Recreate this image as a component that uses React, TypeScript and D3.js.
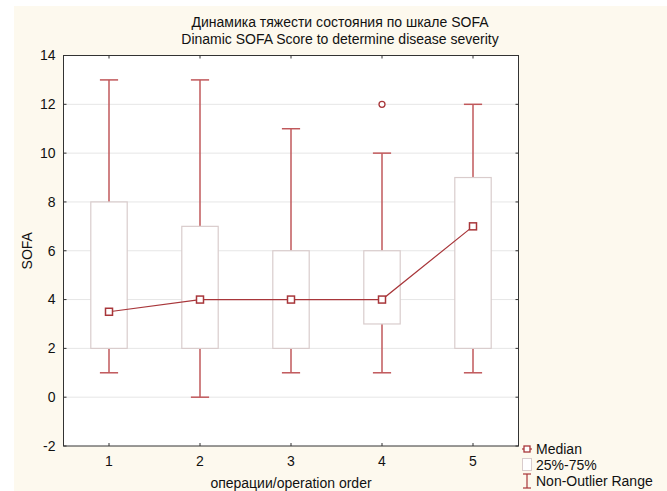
import React from "react";
import * as d3 from "d3";

const categories = ["1", "2", "3", "4", "5"];
const whiskerLow = [1, 0, 1, 1, 1];
const whiskerHigh = [13, 13, 11, 10, 12];
const q1 = [2, 2, 2, 3, 2];
const q3 = [8, 7, 6, 6, 9];
const medians = [3.5, 4, 4, 4, 7];
const outliers: { cat: string; value: number }[] = [{ cat: "4", value: 12 }];
const yTicks = [-2, 0, 2, 4, 6, 8, 10, 12, 14];

const W = 667;
const H = 491;
const left = 63.5;
const right = 518.5;
const top = 55.5;
const bottom = 446;

const RED = "#a8363a";
const WHISK = "#c0585b";
const BOXC = "#d9cccc";
const FONT = "'Liberation Sans', Arial, sans-serif";
const FS = 14;

export default function App() {
  const x = d3.scaleLinear().domain([0.5, 5.5]).range([left, right]);
  const y = d3.scaleLinear().domain([-2, 14]).range([bottom, top]);
  const xc = (c: string) => x(+c);
  const band = x(2) - x(1);
  const boxW = band * 0.4;
  const capW = band * 0.2;
  const line = d3
    .line<number>()
    .x((_, i) => xc(categories[i]))
    .y((d) => y(d));

  return (
    <div style={{ position: "absolute", left: 0, top: 0 }}>
      <svg width={W} height={H} style={{ display: "block" }} fontFamily={FONT}>
        <rect x={0} y={0} width={W} height={H} fill="#ffffff" />
        <rect x={14} y={6} width={W - 14} height={H - 6} fill="#fdf9ee" />
        <rect x={left} y={top} width={right - left} height={bottom - top} fill="#ffffff" />
        {yTicks.map((t) => (
          <g key={t}>
            {t > -2 && t < 14 && (
              <line x1={left} x2={right} y1={y(t)} y2={y(t)} stroke="#e6e6e6" strokeWidth={1} />
            )}
            <line x1={left} x2={left + 3} y1={y(t)} y2={y(t)} stroke="#333" />
            <line x1={right} x2={right - 3} y1={y(t)} y2={y(t)} stroke="#333" />
            <text x={left - 8} y={y(t)} dy="0.35em" textAnchor="end" fontSize={FS} fill="#111">
              {t}
            </text>
          </g>
        ))}
        {categories.map((c) => (
          <g key={c}>
            <line x1={xc(c)} x2={xc(c)} y1={bottom} y2={bottom - 3} stroke="#333" />
            <line x1={xc(c)} x2={xc(c)} y1={top} y2={top + 3} stroke="#333" />
            <text x={xc(c)} y={bottom + 20} textAnchor="middle" fontSize={FS} fill="#111">
              {c}
            </text>
          </g>
        ))}
        {categories.map((c, i) => (
          <g key={"b" + c}>
            <line x1={xc(c)} x2={xc(c)} y1={y(whiskerHigh[i])} y2={y(q3[i])} stroke={WHISK} strokeWidth={1.5} />
            <line x1={xc(c)} x2={xc(c)} y1={y(q1[i])} y2={y(whiskerLow[i])} stroke={WHISK} strokeWidth={1.5} />
            <line x1={xc(c) - capW / 2} x2={xc(c) + capW / 2} y1={y(whiskerHigh[i])} y2={y(whiskerHigh[i])} stroke={WHISK} strokeWidth={1.5} />
            <line x1={xc(c) - capW / 2} x2={xc(c) + capW / 2} y1={y(whiskerLow[i])} y2={y(whiskerLow[i])} stroke={WHISK} strokeWidth={1.5} />
            <rect x={xc(c) - boxW / 2} y={y(q3[i])} width={boxW} height={y(q1[i]) - y(q3[i])} fill="#ffffff" stroke={BOXC} strokeWidth={1.2} />
          </g>
        ))}
        <path d={line(medians) || ""} fill="none" stroke={RED} strokeWidth={1.2} />
        {categories.map((c, i) => (
          <rect key={"m" + c} x={xc(c) - 3.5} y={y(medians[i]) - 3.5} width={7} height={7} fill="#ffffff" stroke={RED} strokeWidth={1.5} />
        ))}
        {outliers.map((o, i) => (
          <circle key={"o" + i} cx={xc(o.cat)} cy={y(o.value)} r={3} fill="#ffffff" stroke={RED} strokeWidth={1.3} />
        ))}
        <rect x={left} y={top} width={right - left} height={bottom - top} fill="none" stroke="#333" strokeWidth={1} />
        <text x={340} y={27} textAnchor="middle" fontSize={FS} fill="#111">
          Динамика тяжести состояния по шкале SOFA
        </text>
        <text x={340} y={44} textAnchor="middle" fontSize={FS} fill="#111">
          Dinamic SOFA Score to determine disease severity
        </text>
        <text x={291} y={488} textAnchor="middle" fontSize={FS} fill="#111">
          операции/operation order
        </text>
        <text transform={`translate(32,${y(6)}) rotate(-90)`} textAnchor="middle" fontSize={FS} fill="#111">
          SOFA
        </text>
        <g>
          <line x1={522} x2={532} y1={449} y2={449} stroke={RED} strokeWidth={1.2} />
          <rect x={524} y={446} width={6} height={6} fill="#ffffff" stroke={RED} strokeWidth={1.3} />
          <text x={536} y={449} dy="0.35em" fontSize={FS} fill="#111">Median</text>
          <rect x={522.5} y={458.5} width={9} height={12} fill="#ffffff" stroke={BOXC} strokeWidth={1} />
          <text x={536} y={465} dy="0.35em" fontSize={FS} fill="#111">25%-75%</text>
          <line x1={527} x2={527} y1={474} y2={488} stroke={RED} strokeWidth={1.2} />
          <line x1={523} x2={531} y1={474} y2={474} stroke={RED} strokeWidth={1.2} />
          <line x1={523} x2={531} y1={488} y2={488} stroke={RED} strokeWidth={1.2} />
          <text x={536} y={481} dy="0.35em" fontSize={FS} fill="#111">Non-Outlier Range</text>
        </g>
      </svg>
    </div>
  );
}
